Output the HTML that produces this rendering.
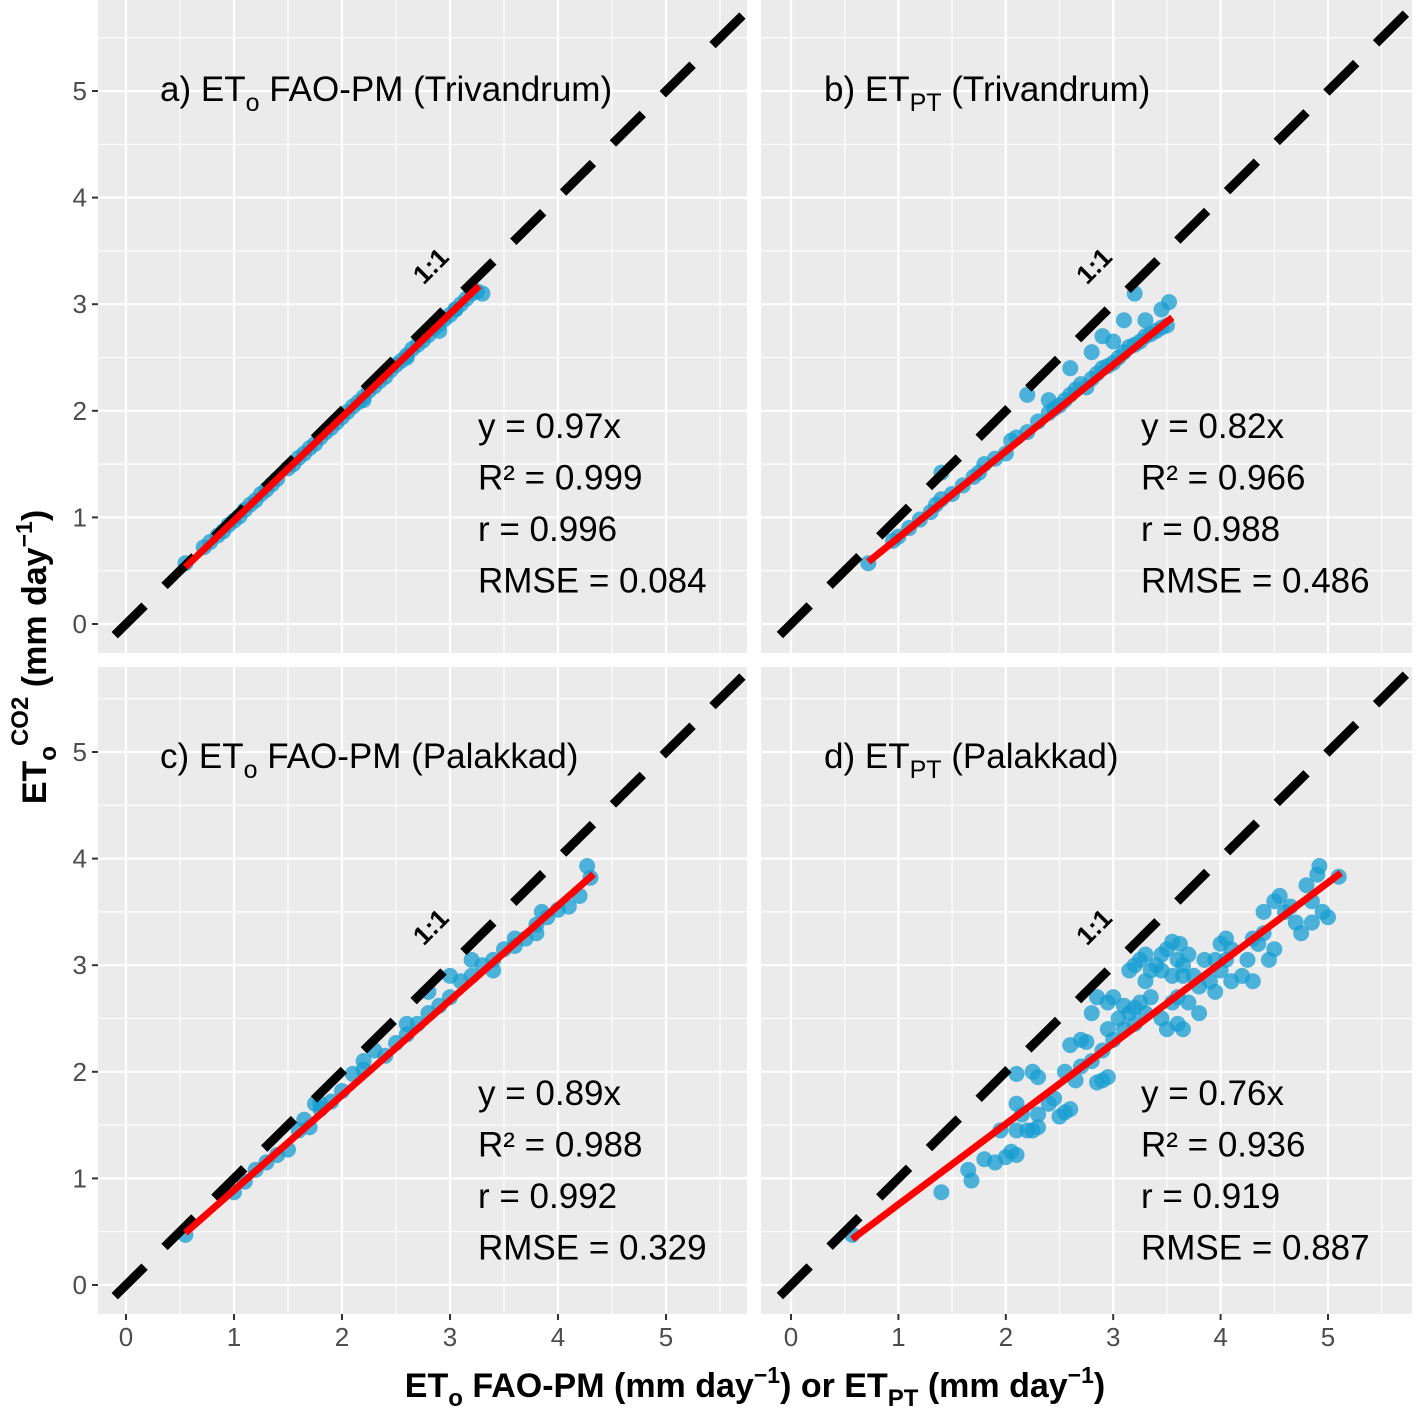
<!DOCTYPE html>
<html><head><meta charset="utf-8">
<style>
html,body{margin:0;padding:0;background:#fff;}
svg{display:block;font-family:"Liberation Sans",Arial,sans-serif;}
</style></head>
<body>
<svg id="chart" width="1418" height="1410" viewBox="0 0 1418 1410" xmlns="http://www.w3.org/2000/svg">
<defs>
<clipPath id="clipA"><rect x="98" y="0" width="649" height="653"/></clipPath>
<clipPath id="clipB"><rect x="761" y="0" width="651" height="653"/></clipPath>
<clipPath id="clipC"><rect x="98" y="667" width="649" height="647"/></clipPath>
<clipPath id="clipD"><rect x="761" y="667" width="651" height="647"/></clipPath>
</defs>
<text transform="translate(46,657) rotate(-90)" text-anchor="middle" font-size="34" font-weight="bold" fill="#000">ET<tspan font-size="24" dy="10">o</tspan><tspan font-size="24" dy="-28">CO2</tspan><tspan dy="18"> (mm day</tspan><tspan font-size="23" dy="-14">−1</tspan><tspan dy="14">)</tspan></text>
<text x="755" y="1397" text-anchor="middle" font-size="34" font-weight="bold" fill="#000">ET<tspan font-size="24" dy="9">o</tspan><tspan dy="-9"> FAO-PM (mm day</tspan><tspan font-size="23" dy="-14">−1</tspan><tspan dy="14">) or ET</tspan><tspan font-size="24" dy="9">PT</tspan><tspan dy="-9"> (mm day</tspan><tspan font-size="23" dy="-14">−1</tspan><tspan dy="14">)</tspan></text>
</svg>
<script>
// Panel a data
const aX=[0.55,0.72,0.78,0.85,0.9,0.95,1.0,1.05,1.1,1.15,1.2,1.25,1.3,1.35,1.4,1.5,1.55,1.6,1.65,1.7,1.75,1.8,1.85,1.9,1.95,2.0,2.05,2.1,2.15,2.2,2.25,2.3,2.35,2.4,2.45,2.5,2.55,2.6,2.65,2.7,2.75,2.8,2.85,2.9,2.95,3.0,3.05,3.1,3.15,3.2,3.25,3.3,2.2,2.6,2.9,3.05];
const aY=[0.57,0.72,0.77,0.83,0.87,0.93,0.97,1.01,1.07,1.12,1.16,1.22,1.26,1.31,1.36,1.46,1.5,1.56,1.6,1.65,1.69,1.75,1.8,1.84,1.89,1.94,1.99,2.04,2.08,2.13,2.19,2.23,2.28,2.32,2.38,2.43,2.47,2.52,2.58,2.62,2.66,2.71,2.77,2.81,2.86,2.9,2.95,3.0,3.05,3.1,3.12,3.1,2.1,2.5,2.75,2.95];
// Panel b data
const bX=[0.72,0.95,1.0,1.1,1.2,1.3,1.35,1.4,1.5,1.6,1.7,1.75,1.8,1.9,2.0,2.05,2.1,2.2,2.2,2.3,2.4,2.45,2.5,2.55,2.6,2.65,2.7,2.75,2.8,2.85,2.9,2.95,3.0,3.05,3.1,3.15,3.2,3.25,3.3,3.35,3.4,3.45,3.5,3.2,3.45,3.52,2.6,2.9,3.0,3.1,3.3,2.8,2.4,1.4];
const bY=[0.57,0.78,0.82,0.9,0.98,1.05,1.12,1.17,1.22,1.3,1.38,1.42,1.5,1.55,1.6,1.72,1.75,1.8,2.15,1.9,1.98,2.02,2.05,2.1,2.15,2.2,2.25,2.22,2.3,2.35,2.4,2.42,2.45,2.5,2.55,2.6,2.62,2.65,2.7,2.72,2.75,2.78,2.8,3.1,2.95,3.02,2.4,2.7,2.65,2.85,2.85,2.55,2.1,1.42];
// Panel c data
const cX=[0.55,1.0,1.1,1.2,1.3,1.4,1.5,1.6,1.65,1.7,1.8,1.9,2.0,2.1,2.2,2.3,2.4,2.5,2.6,2.7,2.8,2.9,3.0,3.1,3.2,3.3,3.4,3.5,3.6,3.7,3.8,3.9,4.0,4.1,4.2,4.27,4.3,2.6,2.8,3.0,3.2,3.4,3.6,3.8,2.2,1.8,1.75,3.85];
const cY=[0.47,0.87,0.97,1.08,1.15,1.22,1.27,1.45,1.55,1.48,1.7,1.72,1.82,1.98,2.02,2.2,2.15,2.27,2.35,2.45,2.55,2.62,2.7,2.85,2.9,3.0,3.05,3.15,3.18,3.25,3.38,3.45,3.52,3.55,3.65,3.93,3.82,2.45,2.75,2.9,3.05,2.95,3.25,3.3,2.1,1.65,1.7,3.5];
// Panel d data
const dX=[1.4,1.65,1.68,1.8,1.9,2.0,2.05,2.1,1.95,2.1,2.15,2.2,2.25,2.3,2.3,2.1,2.25,2.3,2.1,2.4,2.45,2.5,2.55,2.6,2.55,2.65,2.7,2.6,2.7,2.75,2.8,2.85,2.9,2.95,2.9,2.95,3.0,3.05,2.95,3.0,3.1,2.8,2.85,3.1,3.15,3.2,3.2,3.25,3.3,3.35,3.15,3.2,3.25,3.3,3.35,3.4,3.45,3.5,3.3,3.45,3.5,3.55,3.6,3.6,3.65,3.6,3.7,3.75,3.8,3.7,3.8,3.55,3.62,3.45,3.65,3.9,3.95,4.0,4.05,3.95,3.85,4.1,4.1,4.2,4.25,4.3,4.0,4.05,4.3,4.4,4.45,4.5,4.35,4.4,4.5,4.55,4.6,4.65,4.7,4.75,4.8,4.85,4.85,4.9,4.92,4.95,5.0,5.1,0.57,3.55,3.65];
const dY=[0.87,1.08,0.98,1.18,1.15,1.2,1.25,1.22,1.45,1.45,1.6,1.45,1.45,1.48,1.6,1.7,2.0,1.95,1.98,1.7,1.75,1.58,1.62,1.65,2.0,1.92,2.05,2.25,2.3,2.28,2.1,1.9,1.92,1.95,2.2,2.4,2.3,2.5,2.65,2.7,2.62,2.55,2.7,2.4,2.55,2.6,2.45,2.65,2.55,2.7,2.95,3.0,3.05,3.1,2.95,3.0,3.1,3.15,2.85,2.5,2.4,2.65,2.7,2.45,2.9,3.05,3.1,2.9,2.8,2.65,2.55,3.22,3.2,2.95,2.4,2.85,2.75,2.95,3.05,3.05,3.05,3.15,2.85,2.9,3.05,2.85,3.2,3.25,3.25,3.3,3.05,3.15,3.2,3.5,3.6,3.65,3.5,3.55,3.4,3.3,3.75,3.6,3.4,3.85,3.93,3.5,3.45,3.83,0.47,2.9,3.0];
// Fit lines: slope, x-start, x-end
const fitSlope=[0.97,0.81,0.89,0.755];
const fitX0=[0.55,0.72,0.55,0.57];
const fitX1=[3.27,3.55,4.33,5.12];
const titles=["a) ET|o| FAO-PM (Trivandrum)","b) ET|PT| (Trivandrum)","c) ET|o| FAO-PM (Palakkad)","d) ET|PT| (Palakkad)"];
const statY=["y = 0.97x","y = 0.82x","y = 0.89x","y = 0.76x"];
const statR2=["R² = 0.999","R² = 0.966","R² = 0.988","R² = 0.936"];
const statR=["r = 0.996","r = 0.988","r = 0.992","r = 0.919"];
const statRMSE=["RMSE = 0.084","RMSE = 0.486","RMSE = 0.329","RMSE = 0.887"];
const ticks=[0,1,2,3,4,5];

const NS="http://www.w3.org/2000/svg";
const svg=document.getElementById('chart');
function mk(tag,attrs,parent){const e=document.createElementNS(NS,tag);for(const k in attrs)e.setAttribute(k,attrs[k]);(parent||svg).appendChild(e);return e;}

const panels=[
 {x:98,y:0,w:649,h:653,x0:126,sx:108,y0:624,sy:106.6,clip:'clipA',px:aX,py:aY,name:'panel-a'},
 {x:761,y:0,w:651,h:653,x0:791,sx:107.4,y0:624,sy:106.6,clip:'clipB',px:bX,py:bY,name:'panel-b'},
 {x:98,y:667,w:649,h:647,x0:126,sx:108,y0:1285,sy:106.6,clip:'clipC',px:cX,py:cY,name:'panel-c'},
 {x:761,y:667,w:651,h:647,x0:791,sx:107.4,y0:1285,sy:106.6,clip:'clipD',px:dX,py:dY,name:'panel-d'}
];

panels.forEach((p,i)=>{
 const X=v=>p.x0+p.sx*v, Y=v=>p.y0-p.sy*v;
 const g=mk('g',{'clip-path':'url(#'+p.clip+')'});
 
 
 const bg=mk('rect',{x:p.x,y:p.y,width:p.w,height:p.h,fill:'#ebebeb'},g);
 
 
 for(let v=-0.5;v<=6;v+=0.5){
  const major=Number.isInteger(v);
  const lw=major?2.2:1.1;
  const gx=mk('line',{x1:X(v),x2:X(v),y1:p.y,y2:p.y+p.h,stroke:'#fff','stroke-width':lw},g);
  
  
  const gy=mk('line',{x1:p.x,x2:p.x+p.w,y1:Y(v),y2:Y(v),stroke:'#fff','stroke-width':lw},g);
  
  
 }
 for(let k=0;k<p.px.length;k++){
  const c=mk('circle',{cx:X(p.px[k]),cy:Y(p.py[k]),r:8,fill:'rgb(22,158,210)','fill-opacity':0.75},g);
  
  
 }
 const dl=mk('line',{x1:X(-0.5),y1:Y(-0.5),x2:X(6.2),y2:Y(6.2),stroke:'#000','stroke-width':9,'stroke-dasharray':'42 28','stroke-dashoffset':10},g);
 
 
 const fl=mk('line',{x1:X(fitX0[i]),y1:Y(fitSlope[i]*fitX0[i]),x2:X(fitX1[i]),y2:Y(fitSlope[i]*fitX1[i]),stroke:'#ff0000','stroke-width':7},g);
 
 
 const lx=X(2.88), ly=Y(3.3);
 const lab=mk('text',{x:lx,y:ly,transform:`rotate(-45 ${lx} ${ly})`,'font-size':26,'font-weight':'bold','text-anchor':'middle',fill:'#000'});
 lab.textContent='1:1';
 
 
 const parts=titles[i].split('|');
 const t=mk('text',{x:i%2?824:160,y:p.y+101,'font-size':35,fill:'#000'});
 
 
 const s1=mk('tspan',{},t);s1.textContent=parts[0];
 const s2=mk('tspan',{dy:10,'font-size':25},t);s2.textContent=parts[1];
 const s3=mk('tspan',{dy:-10},t);s3.textContent=parts[2];
 const sx=i%2?1141:478;
 [statY[i],statR2[i],statR[i],statRMSE[i]].forEach((s,j)=>{
  const st=mk('text',{x:sx,y:p.y+438+51.5*j,'font-size':35,fill:'#000'});
  st.textContent=s;
  
  
 });
 if(i%2===0){
  ticks.forEach(v=>{
   const tk=mk('line',{x1:92,x2:98,y1:Y(v),y2:Y(v),stroke:'#333','stroke-width':2});
   
   
   const tl=mk('text',{x:87,y:Y(v)+9,'font-size':26,fill:'#4d4d4d','text-anchor':'end'});
   tl.textContent=v;
   
   
  });
 }
 if(i>=2){
  ticks.forEach(v=>{
   const tk=mk('line',{x1:X(v),x2:X(v),y1:1314,y2:1320,stroke:'#333','stroke-width':2});
   
   
   const tl=mk('text',{x:X(v),y:1346,'font-size':26,fill:'#4d4d4d','text-anchor':'middle'});
   tl.textContent=v;
   
   
  });
 }
});
</script>
</body></html>
